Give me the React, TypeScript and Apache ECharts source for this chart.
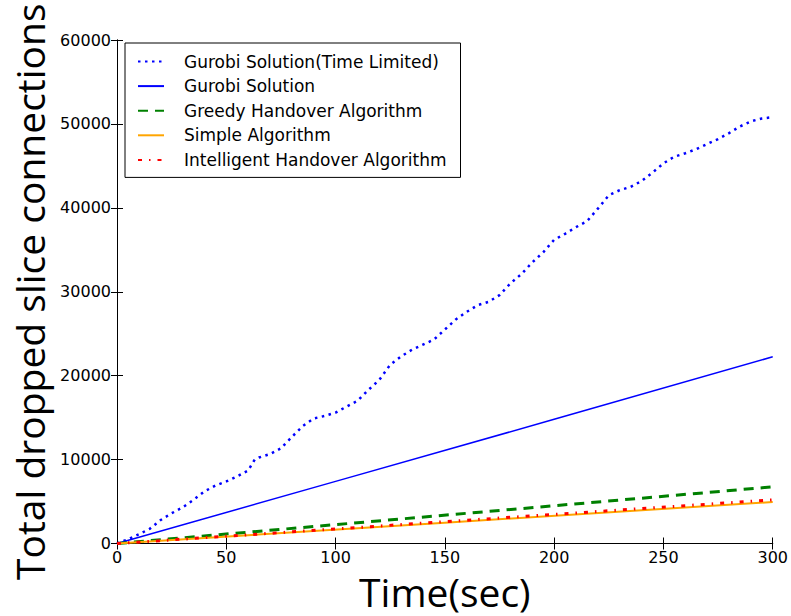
import React, { useEffect, useRef } from "react";
import * as echarts from "echarts";

const seriesNames = [
  "Gurobi Solution(Time Limited)",
  "Gurobi Solution",
  "Greedy Handover Algorithm",
  "Simple Algorithm",
  "Intelligent Handover Algorithm",
];

const timeLimitedT = [
  0, 5, 10, 15, 20, 25, 30, 35, 40, 45, 50, 55, 60, 63, 65, 70, 75, 80, 85, 90,
  95, 100, 105, 110, 115, 120, 125, 130, 135, 140, 145, 150, 155, 160, 165, 170,
  175, 180, 185, 190, 195, 200, 205, 210, 215, 220, 225, 230, 235, 240, 245, 250,
  255, 260, 265, 270, 275, 280, 285, 290, 295, 300,
];
const timeLimitedV = [
  0, 500, 1100, 1750, 2800, 3600, 4300, 5200, 6200, 6900, 7400, 8000, 8700, 10000,
  10250, 10650, 11350, 12700, 14000, 14900, 15200, 15600, 16300, 17000, 18300,
  19500, 21300, 22300, 23100, 23700, 24300, 25500, 26700, 27600, 28400, 28800,
  29600, 31000, 32100, 33500, 34700, 36200, 36900, 37700, 38400, 39900, 41500,
  42100, 42500, 43200, 44200, 45300, 46100, 46500, 47000, 47600, 48200, 48900,
  49700, 50300, 50650, 50800,
];

const gurobiT = [0, 100, 200, 300];
const gurobiV = [0, 7400, 14800, 22250];

const greedyT = [0, 100, 200, 300];
const greedyV = [0, 2250, 4500, 6750];

const simpleT = [0, 150, 300];
const simpleV = [0, 2480, 4950];

const intelligentT = [0, 150, 300];
const intelligentV = [0, 2600, 5200];

const xTicks = { min: 0, max: 300, interval: 50 };
const yTicks = { min: 0, max: 60000, interval: 10000 };

const zip = (t: number[], v: number[]) => t.map((x, i) => [x, v[i]]);

export default function App() {
  const ref = useRef<HTMLDivElement>(null);

  useEffect(() => {
    if (!ref.current) return;
    const chart = echarts.init(ref.current, null, { renderer: "svg" });
    const axisCommon = {
      type: "value" as const,
      axisLine: { show: true, lineStyle: { color: "#000", width: 1 } },
      axisTick: { show: true, inside: true, length: 6, lineStyle: { color: "#000" } },
      splitLine: { show: false },
    };
    const labelStyle = {
      color: "#000",
      fontSize: 16,
      fontFamily: "DejaVu Sans",
      formatter: (v: number) => String(v),
    };
    const nameStyle = {
      color: "#000",
      fontSize: 39,
      lineHeight: 34,
      fontFamily: "Open Sans",
    };
    chart.setOption({
      animation: false,
      backgroundColor: "#fff",
      grid: { left: 117, right: 18, top: 40, bottom: 70, containLabel: false },
      xAxis: [
        {
          ...axisCommon,
          ...xTicks,
          position: "bottom",
          axisLabel: { ...labelStyle, margin: 6 },
          name: "Time(sec)",
          nameLocation: "middle",
          nameGap: 31,
          nameTextStyle: nameStyle,
        },
        {
          ...axisCommon,
          ...xTicks,
          position: "top",
          axisLabel: { show: false },
        },
      ],
      yAxis: [
        {
          ...axisCommon,
          ...yTicks,
          position: "left",
          axisLabel: { ...labelStyle, margin: 6 },
          name: "Total dropped slice connections",
          nameLocation: "middle",
          nameGap: 71,
          nameTextStyle: nameStyle,
        },
        {
          ...axisCommon,
          ...yTicks,
          position: "right",
          axisLabel: { show: false },
        },
      ],
      legend: {
        orient: "vertical",
        left: 125,
        top: 43,
        padding: [10, 14, 9, 12],
        itemWidth: 26,
        itemHeight: 17,
        itemGap: 7.6,
        borderColor: "#000",
        borderWidth: 1,
        backgroundColor: "#fff",
        itemStyle: { opacity: 0 },
        textStyle: {
          color: "#000",
          fontSize: 17,
          lineHeight: 17,
          fontFamily: "DejaVu Sans",
          padding: [0, 0, 0, 15],
        },
        data: seriesNames,
      },
      series: [
        {
          name: seriesNames[0],
          type: "line",
          symbol: "none",
          data: zip(timeLimitedT, timeLimitedV),
          lineStyle: { color: "#0000ff", width: 2.5, type: [2.5, 4.5], cap: "butt" },
          itemStyle: { color: "#0000ff" },
          z: 2,
        },
        {
          name: seriesNames[1],
          type: "line",
          symbol: "none",
          data: zip(gurobiT, gurobiV),
          lineStyle: { color: "#0000ff", width: 1.5, type: "solid" },
          itemStyle: { color: "#0000ff" },
          z: 3,
        },
        {
          name: seriesNames[2],
          type: "line",
          symbol: "none",
          data: zip(greedyT, greedyV),
          lineStyle: { color: "#008000", width: 3, type: [10, 7], cap: "butt" },
          itemStyle: { color: "#008000" },
          z: 4,
        },
        {
          name: seriesNames[3],
          type: "line",
          symbol: "none",
          data: zip(simpleT, simpleV),
          lineStyle: { color: "#ffa500", width: 2, type: "solid" },
          itemStyle: { color: "#ffa500" },
          z: 5,
        },
        {
          name: seriesNames[4],
          type: "line",
          symbol: "none",
          data: zip(intelligentT, intelligentV),
          lineStyle: { color: "#ff0000", width: 3, type: [4, 7, 1.5, 7], cap: "butt" },
          itemStyle: { color: "#ff0000" },
          z: 6,
        },
      ],
    });
    return () => chart.dispose();
  }, []);

  return (
    <div
      ref={ref}
      style={{ position: "fixed", left: 0, top: 0, width: 791, height: 616, background: "#fff" }}
    />
  );
}
